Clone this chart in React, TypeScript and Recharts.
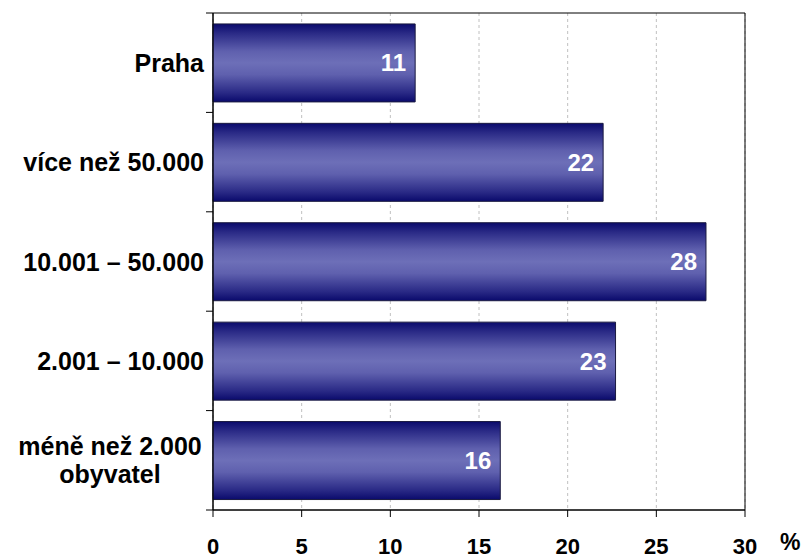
import React from 'react';
import { BarChart, Bar, XAxis, YAxis, CartesianGrid, LabelList, ReferenceArea } from 'recharts';

const categories = ['Praha', 'více než 50.000', '10.001 – 50.000', '2.001 – 10.000', 'méně než 2.000\nobyvatel'];
const values = [11.4, 22.0, 27.8, 22.7, 16.2];
const labels = [11, 22, 28, 23, 16];
const xTicks = [0, 5, 10, 15, 20, 25, 30];

const data = categories.map((c, i) => ({ name: c, value: values[i], label: labels[i] }));

const W = 805;
const H = 558;
const M = { top: 13, right: 60, bottom: 0, left: 0 };
const Y_W = 213;
const X_H = 48;
const BAND = (H - M.top - M.bottom - X_H) / categories.length;
const FONT = '"Liberation Sans", Arial, sans-serif';

const YTick = (props: any) => {
  const { x, y, payload, index } = props;
  const lines = String(payload.value).split('\n');
  const axisX = x + 7;
  return (
    <g>
      <line x1={axisX - 7} x2={axisX} y1={y - BAND / 2} y2={y - BAND / 2} stroke="#000" />
      {index === categories.length - 1 && (
        <line x1={axisX - 7} x2={axisX} y1={y + BAND / 2} y2={y + BAND / 2} stroke="#000" />
      )}
      {lines.length === 1 ? (
        <text x={x - 2} y={y} dy="0.36em" textAnchor="end" fontFamily={FONT} fontWeight="bold" fontSize={25} fill="#000">
          {lines[0]}
        </text>
      ) : (
        <text x={x - 96} y={y - 14} textAnchor="middle" fontFamily={FONT} fontWeight="bold" fontSize={25} fill="#000">
          {lines.map((l, i) => (
            <tspan key={i} x={x - 96} dy={i === 0 ? '0.36em' : '1.12em'}>{l}</tspan>
          ))}
        </text>
      )}
    </g>
  );
};

const PercentLabel = (props: any) => {
  const { viewBox } = props;
  const vx = viewBox.x + viewBox.width;
  return (
    <text x={vx + 35} y={viewBox.y + 24} dy="0.71em" fontFamily={FONT} fontWeight="bold" fontSize={23} fill="#000">
      %
    </text>
  );
};

export default function App() {
  return (
    <div style={{ position: 'absolute', left: 0, top: 0, background: '#fff' }}>
      <BarChart
        width={W}
        height={H}
        data={data}
        layout="vertical"
        margin={M}
        barCategoryGap="11%"
      >
        <defs>
          <linearGradient id="barGrad" x1="0" y1="0" x2="0" y2="1">
            <stop offset="0%" stopColor="#0a0a6c" />
            <stop offset="12%" stopColor="#2a2a86" />
            <stop offset="35%" stopColor="#5f60ae" />
            <stop offset="50%" stopColor="#6d6fb8" />
            <stop offset="65%" stopColor="#5f60ae" />
            <stop offset="88%" stopColor="#2a2a86" />
            <stop offset="100%" stopColor="#0a0a6c" />
          </linearGradient>
        </defs>
        <CartesianGrid horizontal={false} vertical stroke="#c0c0c0" strokeDasharray="3 3" />
        <XAxis
          type="number"
          domain={[0, 30]}
          ticks={xTicks}
          interval={0}
          height={X_H}
          axisLine={{ stroke: '#000' }}
          tickLine={{ stroke: '#000' }}
          tickSize={7}
          tickMargin={21}
          tick={{ fontFamily: FONT, fontWeight: 'bold', fontSize: 22, fill: '#000' }}
          label={<PercentLabel />}
        />
        <YAxis
          type="category"
          dataKey="name"
          width={Y_W}
          axisLine={{ stroke: '#000' }}
          tickLine={false}
          tickSize={7}
          tickMargin={0}
          tick={<YTick />}
          interval={0}
        />
        <ReferenceArea x1={0} x2={30} fill="none" stroke="#000" strokeWidth={1} ifOverflow="visible" />
        <Bar dataKey="value" fill="url(#barGrad)" stroke="#1a1a40" strokeWidth={1} isAnimationActive={false}>
          <LabelList
            dataKey="label"
            position="insideRight"
            offset={9}
            fill="#fff"
            fontFamily={FONT}
            fontWeight="bold"
            fontSize={24}
          />
        </Bar>
      </BarChart>
    </div>
  );
}
